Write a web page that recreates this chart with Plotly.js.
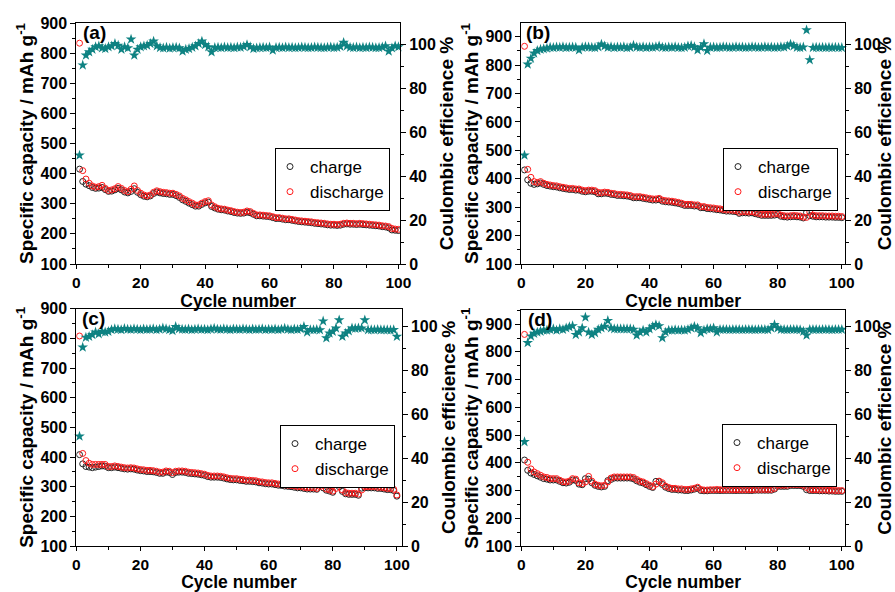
<!DOCTYPE html>
<html>
<head>
<meta charset="utf-8">
<script src="https://cdn.plot.ly/plotly-3.0.1.min.js"></script>
<style>html,body{margin:0;padding:0;background:#fff;}#chart{width:895px;height:592px;}</style>
</head>
<body>
<div id="chart"></div>
<script>
// ---------- DATA ----------
const cycles = [1,2,3,4,5,6,7,8,9,10,11,12,13,14,15,16,17,18,19,20,21,22,23,24,25,26,27,28,29,30,31,32,33,34,35,36,37,38,39,40,41,42,43,44,45,46,47,48,49,50,51,52,53,54,55,56,57,58,59,60,61,62,63,64,65,66,67,68,69,70,71,72,73,74,75,76,77,78,79,80,81,82,83,84,85,86,87,88,89,90,91,92,93,94,95,96,97,98,99,100];

// panel (a)
const chargeA = [415,374,365,360,354,351,352,354,347,341,342,346,351,346,339,336,341,350,338,330,325,323,326,334,339,336,334,333,331,331,327,321,313,308,302,297,292,292,298,303,305,291,286,282,280,279,276,274,271,269,268,269,272,270,265,260,260,259,258,257,254,251,251,249,247,247,245,243,241,240,239,238,237,235,234,233,232,230,229,229,228,229,232,233,232,232,231,232,231,230,229,228,227,226,224,223,220,213,212,211];
const dischargeA = [833,410,382,368,359,355,357,361,351,344,346,350,357,351,344,340,348,359,344,335,329,326,329,338,343,340,338,337,335,335,331,326,318,313,307,302,296,296,302,307,310,296,290,285,283,282,279,277,274,272,271,272,276,274,268,263,263,262,261,260,257,254,254,252,250,250,248,246,244,243,242,241,240,238,237,236,235,233,232,232,231,232,235,236,235,235,234,235,234,233,232,231,230,229,227,226,224,218,216,215];
const ceA = [49.5,90.5,95,96.5,97.7,98.8,99.2,98.3,98,98.8,99.2,100.3,99.5,97.7,98.8,98.3,102.3,95,97.7,98.8,99.2,99.5,100.3,101.4,99.2,98.5,98.3,98.6,98.2,98.5,98.6,98.3,96.8,97.7,98,98.6,99.2,100.3,101.4,99.8,98.8,96.5,98.5,98.6,98.4,98.7,98.5,98.6,98.4,98.7,98.6,99,99.8,98.8,98,98.3,98.5,98.6,98.4,98.7,97.3,98.5,98.6,98.4,98.7,98.5,98.6,98.4,98.5,98.7,98.6,98.4,98.5,98.7,98.6,98.5,98.4,98.6,98.7,98.5,98.6,99,100.8,99.2,98.6,98.5,98.7,98.4,98.6,98.5,98.7,98.6,98.4,98.5,98.7,99.2,96.8,98.3,99.2,98.8];

// panel (b)
const chargeB = [431,396,384,380,382,385,380,376,374,372,371,368,366,364,362,362,360,360,356,354,356,356,354,347,347,349,348,345,344,341,341,340,339,337,333,333,333,331,329,327,325,325,327,321,319,318,317,315,313,310,306,306,306,304,304,298,298,295,294,293,291,290,288,286,286,285,284,278,280,280,279,280,277,274,271,271,271,271,272,274,268,266,265,266,267,266,265,262,281,270,268,266,266,266,265,265,265,264,264,263];
const dischargeB = [866,433,405,390,387,390,384,380,378,376,375,372,370,368,366,366,364,364,360,358,360,360,358,352,351,353,352,349,348,345,345,344,343,341,337,337,337,335,333,331,329,329,331,325,323,322,321,319,317,314,310,310,310,308,308,302,302,299,298,297,295,294,292,290,290,289,288,282,284,284,283,284,281,278,275,275,275,275,276,278,272,270,269,270,271,270,269,265,264,283,272,270,270,270,269,269,269,268,268,267];
const ceB = [49.5,90.9,93.6,95.9,97.1,97.7,97.9,98.2,98.6,98.5,98.7,98.6,98.8,98.5,98.6,98.7,98.6,97.4,98.6,98.8,98.7,98.6,98.5,98.8,100,99.2,98.6,98.8,98.5,98.7,98.6,98.8,98.4,98.6,99.5,98.7,98.6,98.8,98.5,98.7,98.6,98.8,99.2,98.6,98.5,98.7,98.6,98.8,98.5,98.4,98.6,99.2,99.4,98.8,97.4,98.6,100.2,97.1,98.6,98.7,98.5,98.6,98.8,98.7,98.5,98.6,98.8,98.6,98.7,98.5,98.6,98.8,98.7,98.5,98.6,98.8,98.6,98.7,98.5,98.6,98.8,98.7,99.2,100,99.3,98.6,98.5,98.7,106.5,92.9,98.5,98.6,98.5,98.6,98.5,98.6,98.5,98.6,98.5,98.5];

// panel (c)
const chargeC = [408,377,368,366,364,366,368,370,369,364,364,366,364,362,360,359,360,359,356,354,353,351,351,350,348,345,345,349,348,341,348,349,349,348,345,344,343,342,340,338,334,332,332,332,331,329,326,324,323,323,321,320,318,318,317,316,313,312,310,309,309,307,305,304,302,301,300,298,296,296,294,292,292,292,291,310,296,288,285,281,308,300,284,276,274,274,274,271,295,296,296,296,296,294,294,292,290,290,287,268];
const dischargeC = [808,412,388,379,375,375,375,375,375,368,368,370,368,366,364,363,364,363,360,358,357,355,355,354,352,349,349,353,352,347,352,353,353,352,349,348,347,346,344,342,338,336,336,336,335,333,330,328,327,327,325,324,322,322,321,320,317,316,314,313,313,311,309,308,306,305,304,302,300,300,298,296,296,296,294,300,305,292,289,285,294,313,289,280,278,278,278,275,289,300,300,300,300,298,298,296,294,294,291,272];
const ceC = [50,90.6,95.1,95.5,96.3,97.5,96.7,97.8,97.5,97.8,98.6,99,98.8,98.6,99.1,98.8,98.7,99,98.8,98.6,98.9,98.7,98.8,99,98.6,98.8,99.3,99,98.6,98.2,100,99,98.8,98.7,98.9,98.6,98.8,99,98.7,98.8,98.6,98.9,99.2,98.8,98.7,99,98.8,98.6,98.9,98.8,98.7,99,98.8,98.6,98.9,98.7,98.8,99,98.6,98.8,98.7,98.9,98.6,98.8,99.2,98.8,98.6,98.9,98.7,99,100,97.5,98.6,98.5,98.7,98.5,102.5,94.8,97,97.8,99.3,103,95.5,97,98,99.3,99.2,99.4,99.3,103,98.5,98.6,98.5,98.7,98.5,98.6,98.5,98.4,98.6,95.5];

// panel (d)
const chargeD = [410,373,363,358,353,348,343,341,338,338,338,333,328,327,330,338,336,323,321,343,341,328,319,315,313,315,336,340,345,345,345,345,345,345,342,335,330,327,321,315,311,333,332,322,312,307,304,304,302,302,300,300,302,305,308,300,299,299,300,300,300,300,300,300,300,300,300,300,300,300,300,300,301,301,301,301,301,301,305,315,315,315,315,318,318,318,318,315,303,300,300,300,299,299,299,298,298,297,297,297];
const dischargeD = [863,402,378,367,361,355,349,347,343,343,343,337,332,331,334,343,341,328,325,331,351,334,323,319,317,319,331,345,349,349,349,349,349,349,347,340,334,331,325,319,314,323,334,328,316,311,308,308,306,306,304,304,306,308,312,304,302,302,303,303,304,303,303,303,303,303,303,303,303,303,303,303,304,304,304,304,304,304,308,319,319,319,319,322,322,322,322,319,311,304,303,303,302,302,302,301,301,300,300,300];
const ceD = [47.5,92.7,95.7,96.9,97.5,97.9,98.4,98.4,98.7,99,98.4,99,98.7,99.4,99.9,100.4,96.4,97.5,99.4,104.3,97.5,96.4,97.2,98.7,99.4,100.1,102.8,99.4,99,99,99,99,99,99,98.7,96.1,97.5,98.4,97.5,99,100.1,100.9,100.4,94.9,97.5,98.4,98.4,98.6,98.4,98.5,98.4,98.7,99.4,100.1,99.4,97.2,98.4,99,99,99.4,97.5,98.7,98.7,98.7,98.6,98.7,98.7,98.7,98.6,98.7,98.7,98.7,98.6,98.7,98.7,98.7,98.6,99.4,100.9,99.4,98.7,98.7,98.6,98.7,98.7,98.7,98.6,97.9,96.1,98.7,98.7,98.7,98.6,98.7,98.7,98.7,98.6,98.7,98.7,98.7];

// tick labels
const cycleTicks = [0,20,40,60,80,100];
const capTicks = [100,200,300,400,500,600,700,800,900];
const ceTicks = [0,20,40,60,80,100];

const panelLabels = ['(a)','(b)','(c)','(d)'];
const seriesNames = ['charge','discharge'];
const xTitle = 'Cycle number';
const yTitle = 'Specific capacity / mAh g<sup>-1</sup>';
const y2Title = 'Coulombic efficience %';

// ---------- STYLE / LAYOUT ----------
const FAM = 'Liberation Sans, Arial, Helvetica, sans-serif';
const W = 895, H = 592;
const teal = '#0e8282';
const boldText = v => '<b>' + v + '</b>';

const panels = [
  {charge: chargeA, discharge: dischargeA, ce: ceA, px:[76.3,400], py:[23,264], xr:[0,100.5], yr:[100,900], y2r:[0,109.7], lab:[81,33], leg:[275,148]},
  {charge: chargeB, discharge: dischargeB, ce: ceB, px:[521.3,845], py:[23,264], xr:[0,101], yr:[100,948], y2r:[0,109.7], lab:[524,33], leg:[723,148]},
  {charge: chargeC, discharge: dischargeC, ce: ceC, px:[76.3,401.7], py:[308.7,546], xr:[0,101.5], yr:[100,900], y2r:[0,108.2], lab:[80,318], leg:[280,425]},
  {charge: chargeD, discharge: dischargeD, ce: ceD, px:[521.3,845], py:[310.3,546], xr:[0,101], yr:[100,950], y2r:[0,107.5], lab:[526,319], leg:[722,424]}
];

const tickFont = {family: FAM, size: 16, color: '#000', weight: 700};
const xTickFont = {family: FAM, size: 15.5, color: '#000', weight: 700};
const titleFont = {family: FAM, size: 19, color: '#000', weight: 700};
const xTitleFont = {family: FAM, size: 17.5, color: '#000', weight: 700};
const base = {
  showline: true, linecolor: '#000', linewidth: 1,
  ticks: 'outside', ticklen: 5, tickwidth: 1, tickcolor: '#000',
  showgrid: false, zeroline: false, tickfont: tickFont, automargin: false,
  tickmode: 'array'
};
const minorOf = d => ({ticks: 'outside', ticklen: 3, tickwidth: 1, tickcolor: '#000', showgrid: false, tickmode: 'linear', tick0: 0, dtick: d});

const traces = [];
const layout = {
  width: W, height: H,
  margin: {l: 0, r: 0, t: 0, b: 0},
  paper_bgcolor: '#fff', plot_bgcolor: '#fff',
  font: {family: FAM, color: '#000'},
  showlegend: true,
  annotations: []
};

panels.forEach((p, i) => {
  const k = i + 1;
  const xa = 'xaxis' + (k === 1 ? '' : k);
  const xs = 'x' + (k === 1 ? '' : k);
  const yL = 2 * i + 1, yR = 2 * i + 2;
  const yaL = 'yaxis' + (yL === 1 ? '' : yL), ysL = 'y' + (yL === 1 ? '' : yL);
  const yaR = 'yaxis' + yR, ysR = 'y' + yR;
  const legName = 'legend' + (k === 1 ? '' : k);
  const xd = [p.px[0] / W, p.px[1] / W];
  const yd = [1 - p.py[1] / H, 1 - p.py[0] / H];

  layout[xa] = Object.assign({}, base, {
    domain: xd, anchor: ysL, range: p.xr, mirror: true, ticklen: 4, tickfont: xTickFont,
    tickvals: cycleTicks, ticktext: cycleTicks.map(boldText),
    minor: minorOf(10),
    title: {text: xTitle, font: xTitleFont, standoff: 0}
  });
  layout[yaL] = Object.assign({}, base, {
    domain: yd, anchor: xs, range: p.yr,
    tickvals: capTicks, ticktext: capTicks.map(boldText),
    minor: minorOf(50),
    title: {text: yTitle, font: titleFont, standoff: 1}
  });
  layout[yaR] = Object.assign({}, base, {
    domain: yd, anchor: xs, overlaying: ysL, side: 'right', range: p.y2r,
    tickvals: ceTicks, ticktext: ceTicks.map(boldText),
    minor: minorOf(10),
    title: {text: y2Title, font: titleFont, standoff: 0}
  });
  layout[legName] = {
    x: p.leg[0] / W, y: 1 - p.leg[1] / H, xanchor: 'left', yanchor: 'top',
    xref: 'paper', yref: 'paper',
    bgcolor: '#fff', bordercolor: '#000', borderwidth: 1,
    font: {family: FAM, size: 17, color: '#000'},
    tracegroupgap: 0, itemwidth: 30, indentation: -6
  };
  layout.annotations.push({
    text: panelLabels[i], xref: 'paper', yref: 'paper',
    x: p.lab[0] / W, y: 1 - p.lab[1] / H, xanchor: 'left', yanchor: 'middle',
    showarrow: false, font: {family: FAM, size: 19, color: '#000', weight: 700}
  });

  traces.push({
    x: cycles, y: p.charge, xaxis: xs, yaxis: ysL, name: seriesNames[0], legend: legName,
    type: 'scatter', mode: 'markers',
    marker: {symbol: 'circle-open', size: 6, color: '#222', line: {width: 1}}
  });
  traces.push({
    x: cycles, y: p.discharge, xaxis: xs, yaxis: ysL, name: seriesNames[1], legend: legName,
    type: 'scatter', mode: 'markers',
    marker: {symbol: 'circle-open', size: 6, color: '#ff1a1a', line: {width: 1}}
  });
  traces.push({
    x: cycles, y: p.ce, xaxis: xs, yaxis: ysR, name: 'Coulombic efficiency', showlegend: false,
    type: 'scatter', mode: 'markers', cliponaxis: false,
    marker: {symbol: 'star', size: 8, color: teal, line: {width: 0}}
  });
});

Plotly.newPlot('chart', traces, layout, {displayModeBar: false, staticPlot: true});
</script>
</body>
</html>
